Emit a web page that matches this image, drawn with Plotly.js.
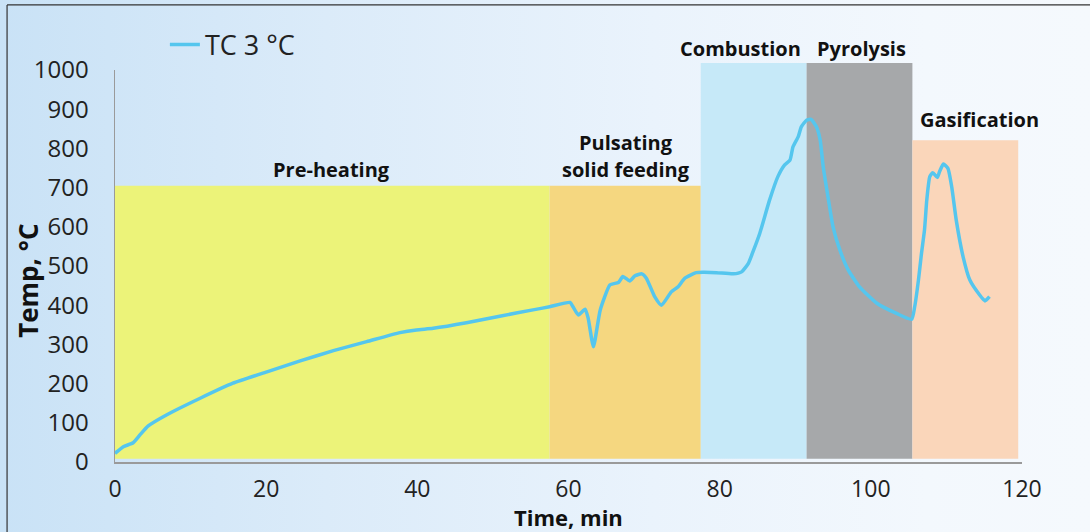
<!DOCTYPE html>
<html>
<head>
<meta charset="utf-8">
<script src="https://cdn.plot.ly/plotly-3.0.1.min.js"></script>
<style>
  html, body { margin: 0; padding: 0; }
  #chart {
    width: 1090px; height: 532px;
    background: linear-gradient(90deg, #c9e2f6 0%, #dbebf9 30%, #eaf3fc 60%, #f3f8fd 85%, #f5f9fd 100%);
  }
</style>
</head>
<body>
<div id="chart"></div>
<script>
// Time (min) and TC 3 temperature (°C)
const timeMin = [0, 1.1, 2.4, 3.3, 4.4, 6.8, 11.2, 15.6, 20.1, 24.5, 28.9, 33.3, 37.7, 39.9, 42.1, 46.5, 50.9, 55.3, 57.5,
  60.2, 60.6, 61.3, 62.2, 62.6, 63.3, 64.2, 65.5, 66.6, 67.2, 68.1, 68.8, 69.7, 70.3, 71.4, 72.3, 73.6, 74.5, 75.4, 76.9, 77.8,
  79.6, 81.8, 82.9, 83.8, 84.5, 85.3, 86.6, 87.7, 88.6, 89.3, 89.7, 90.4, 90.8, 91.5, 92.1, 92.8, 93.3, 93.7, 94.4, 95.0,
  95.9, 97.0, 98.5, 100.8, 103.4, 105.4, 105.8, 106.3, 106.7, 107.1, 107.4, 107.8, 108.2, 108.8, 109.1, 109.6, 110.2,
  110.7, 111.3, 112.2, 113.1, 114.4, 115.1, 115.7];
const tc3 = [22, 39, 49, 69, 92, 120, 162, 201, 230, 258, 284, 307, 330, 337, 341, 355, 372, 388, 396,
  407, 396, 375, 390, 367, 294, 388, 452, 458, 473, 462, 475, 480, 469, 422, 400, 434, 447, 469, 483, 484,
  483, 480, 485, 507, 541, 583, 668, 728, 758, 770, 804, 830, 855, 872, 874, 855, 821, 753, 668, 600,
  541, 490, 447, 405, 379, 364, 396, 464, 532, 592, 668, 728, 738, 726, 741, 760, 749,
  702, 617, 524, 464, 426, 411, 422];

// Process phases
const phaseStart = [0, 57.5, 77.5, 91.5, 105.5];
const phaseEnd = [57.5, 77.5, 91.5, 105.5, 119.5];
const phaseTop = [705, 705, 1018, 1018, 821];
const phaseColors = ["#ecf379", "#f5d780", "#c6e9f8", "#a6a8aa", "#fad6ba"];

// Phase labels (centre time, label level in °C)
const labelText = ["Pre-heating", "Pulsating", "solid feeding", "Combustion", "Pyrolysis", "Gasification"];
const labelTime = [28.6, 67.6, 67.6, 82.7, 98.8, 114.4];
const labelLevel = [745, 814, 747, 1054, 1054, 874];

const xTicks = [0, 20, 40, 60, 80, 100, 120];
const yTicks = [0, 100, 200, 300, 400, 500, 600, 700, 800, 900, 1000];

const yMax = 1000;
const shapes = phaseStart.map((s, i) => ({
  type: "rect", xref: "x", yref: "paper", layer: "below",
  x0: s, x1: phaseEnd[i], y0: 8 / yMax, y1: phaseTop[i] / yMax,
  fillcolor: phaseColors[i], line: { width: 0 }
}));
// frame lines of the original picture
shapes.push({ type: "line", xref: "paper", yref: "paper", x0: -0.119, x1: 1.08, y0: 1.166, y1: 1.166, line: { color: "#333", width: 1.2 } });
shapes.push({ type: "line", xref: "paper", yref: "paper", x0: -0.119, x1: -0.119, y0: 1.166, y1: -0.2, line: { color: "#333", width: 1.2 } });

const annFont = { family: "Open Sans, sans-serif", size: 20, color: "#111" };
const annotations = labelText.map((t, i) => ({
  text: "<b>" + t + "</b>", x: labelTime[i], y: labelLevel[i] / yMax, xref: "x", yref: "paper",
  showarrow: false, font: annFont, xanchor: "center", yanchor: "middle"
}));
// axis titles
annotations.push({
  text: "<b>Temp, °C</b>", xref: "paper", yref: "paper", x: -0.096, y: 0.462,
  xanchor: "center", yanchor: "middle", textangle: -90, showarrow: false,
  font: { family: "Open Sans, sans-serif", size: 26, color: "#111" }
});
annotations.push({
  text: "<b>Time, min</b>", xref: "paper", yref: "paper", x: 0.5, y: -0.140,
  xanchor: "center", yanchor: "middle", showarrow: false,
  font: { family: "Open Sans, sans-serif", size: 22, color: "#111" }
});

const trace = {
  x: timeMin, y: tc3, type: "scatter", mode: "lines", name: "TC 3 °C",
  line: { color: "#55c6ee", width: 3.5, shape: "spline", smoothing: 0.5 }
};

const layout = {
  width: 1090, height: 532,
  margin: { l: 115, r: 68, t: 70, b: 70 },
  paper_bgcolor: "rgba(0,0,0,0)", plot_bgcolor: "rgba(0,0,0,0)",
  font: { family: "Open Sans, sans-serif", color: "#222" },
  showlegend: true,
  legend: {
    x: 0.055, y: 1.064, xanchor: "left", yanchor: "middle",
    bgcolor: "rgba(0,0,0,0)", font: { size: 27, color: "#222" }
  },
  xaxis: {
    range: [0, 120], tickvals: xTicks, ticktext: xTicks.map(String),
    showgrid: false, zeroline: false, showline: true, linecolor: "#9a9a9a", linewidth: 1.5,
    ticks: "", ticklabelstandoff: 6, tickfont: { size: 23, color: "#222" }
  },
  yaxis: {
    range: [0, 1000], tickvals: yTicks, ticktext: yTicks.map(String),
    showgrid: false, zeroline: false, showline: true, linecolor: "#9a9a9a", linewidth: 1.5,
    ticks: "", ticklabelstandoff: 20, tickfont: { size: 24, color: "#222" }
  },
  shapes: shapes,
  annotations: annotations
};

Plotly.newPlot("chart", [trace], layout, { displayModeBar: false, staticPlot: true });
</script>
</body>
</html>
